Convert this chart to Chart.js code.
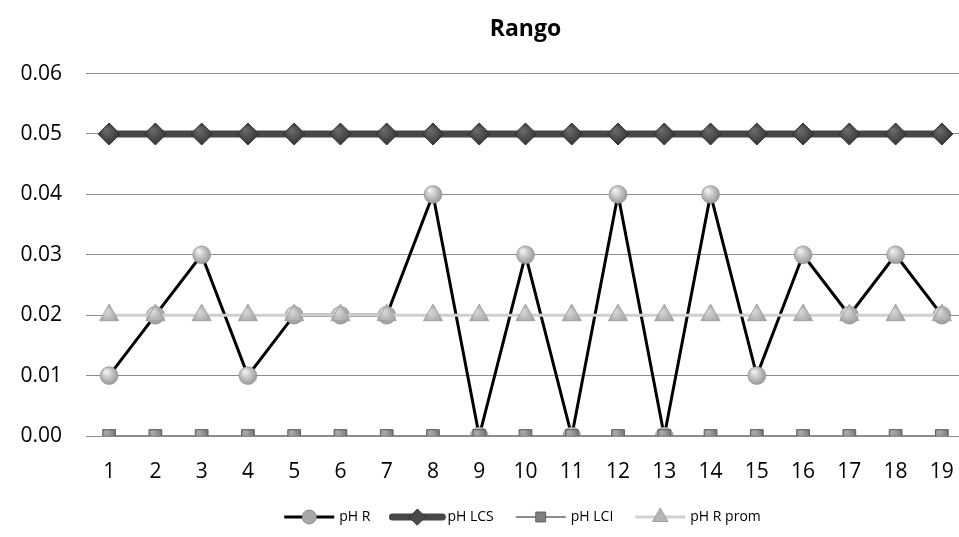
<!DOCTYPE html>
<html>
<head>
<meta charset="utf-8">
<script src="https://cdn.jsdelivr.net/npm/chart.js@4"></script>
<style>
  html, body { margin: 0; padding: 0; background: #fff; overflow: hidden; }
  #wrap { width: 959px; height: 537px; overflow: hidden; }
  #inner { width: 965px; height: 537px; }
</style>
</head>
<body>
<div id="wrap"><div id="inner"><canvas id="rangoChart"></canvas></div></div>
<script>
// datos
const muestras = ['1','2','3','4','5','6','7','8','9','10','11','12','13','14','15','16','17','18','19'];
const phR     = [0.01,0.02,0.03,0.01,0.02,0.02,0.02,0.04,0.00,0.03,0.00,0.04,0.00,0.04,0.01,0.03,0.02,0.03,0.02];
const phLCS   = [0.05,0.05,0.05,0.05,0.05,0.05,0.05,0.05,0.05,0.05,0.05,0.05,0.05,0.05,0.05,0.05,0.05,0.05,0.05];
const phLCI   = [0,0,0,0,0,0,0,0,0,0,0,0,0,0,0,0,0,0,0];
const phRprom = [0.02,0.02,0.02,0.02,0.02,0.02,0.02,0.02,0.02,0.02,0.02,0.02,0.02,0.02,0.02,0.02,0.02,0.02,0.02];
const yTicks  = [0, 0.01, 0.02, 0.03, 0.04, 0.05, 0.06];

const FONT = "'Open Sans', 'Liberation Sans', sans-serif";

// degradado radial para imitar los marcadores con relieve
function shade(light, dark) {
  return function(ctx) {
    const c = ctx.chart;
    if (ctx.type !== 'data' || !c.scales.x || !c.scales.y || !ctx.parsed) return dark;
    const x = c.scales.x.getPixelForValue(ctx.dataIndex);
    const y = c.scales.y.getPixelForValue(ctx.parsed.y);
    if (!isFinite(x) || !isFinite(y)) return dark;
    const g = c.ctx.createRadialGradient(x - 3, y - 4, 1, x, y, 11);
    g.addColorStop(0, light);
    g.addColorStop(1, dark);
    return g;
  };
}

const legendPlugin = {
  id: 'bottomLegend',
  afterDraw(chart) {
    const ctx = chart.ctx;
    const sets = chart.data.datasets;
    const lineLen = 50, gap = 5, between = 22;
    ctx.save();
    ctx.font = "14px " + FONT;
    let total = 0;
    sets.forEach((d, i) => {
      total += lineLen + gap + ctx.measureText(d.label).width;
      if (i < sets.length - 1) total += between;
    });
    const area = chart.chartArea;
    let x = (area.left + area.right) / 2 - total / 2 - 3;
    const y = 517;
    sets.forEach(d => {
      ctx.strokeStyle = d.borderColor;
      ctx.lineWidth = d.borderWidth;
      ctx.lineCap = d.borderWidth > 4 ? 'round' : 'butt';
      ctx.beginPath();
      ctx.moveTo(x, y);
      ctx.lineTo(x + lineLen, y);
      ctx.stroke();
      ctx.fillStyle = d.legendFill;
      ctx.strokeStyle = d.legendStroke;
      ctx.lineWidth = 1;
      Chart.helpers.drawPoint(ctx, {
        pointStyle: d.pointStyle,
        radius: d.legendRadius,
        rotation: 0,
        borderWidth: 1
      }, x + lineLen / 2, y);
      ctx.fillStyle = '#000';
      ctx.textBaseline = 'middle';
      ctx.textAlign = 'left';
      ctx.fillText(d.label, x + lineLen + gap, y);
      x += lineLen + gap + ctx.measureText(d.label).width + between;
    });
    ctx.restore();
  }
};

new Chart(document.getElementById('rangoChart'), {
  type: 'line',
  data: {
    labels: muestras,
    datasets: [
      {
        label: 'pH R',
        data: phR,
        borderColor: '#000000',
        borderWidth: 3,
        pointStyle: 'circle',
        pointRadius: 9,
        pointBackgroundColor: shade('#eeeeee', '#8a8a8a'),
        pointBorderColor: '#8a8a8a',
        pointBorderWidth: 0.5,
        legendRadius: 7, legendFill: '#a8a8a8', legendStroke: '#8a8a8a',
        order: 4
      },
      {
        label: 'pH LCS',
        data: phLCS,
        borderColor: '#474747',
        borderWidth: 7,
        pointStyle: 'rectRot',
        pointRadius: 11,
        pointBackgroundColor: shade('#6a6a6a', '#333333'),
        pointBorderColor: '#333333',
        pointBorderWidth: 1,
        legendRadius: 8, legendFill: '#4a4a4a', legendStroke: '#333333',
        order: 3
      },
      {
        label: 'pH LCI',
        data: phLCI,
        borderColor: '#8c8c8c',
        borderWidth: 2,
        pointStyle: 'rect',
        pointRadius: 9,
        pointBackgroundColor: shade('#a8a8a8', '#5e5e5e'),
        pointBorderColor: '#5e5e5e',
        pointBorderWidth: 1,
        legendRadius: 7, legendFill: '#808080', legendStroke: '#5e5e5e',
        order: 2
      },
      {
        label: 'pH R prom',
        data: phRprom,
        borderColor: '#cfcfcf',
        borderWidth: 3,
        pointStyle: 'triangle',
        pointRadius: 11,
        pointBackgroundColor: shade('#d6d6d6', '#9a9a9a'),
        pointBorderColor: '#a0a0a0',
        pointBorderWidth: 1,
        legendRadius: 9, legendFill: '#b4b4b4', legendStroke: '#a0a0a0',
        order: 1
      }
    ]
  },
  options: {
    responsive: true,
    maintainAspectRatio: false,
    animation: false,
    layout: { autoPadding: false, padding: { top: 0, left: 0, right: 0, bottom: 53 } },
    plugins: {
      legend: { display: false },
      tooltip: { enabled: false },
      title: {
        display: true,
        fullSize: false,
        text: 'Rango',
        color: '#000',
        font: { family: FONT, size: 23, weight: 'bold' },
        padding: { top: 16, bottom: 30 }
      }
    },
    scales: {
      x: {
        offset: true,
        grid: { display: false, drawTicks: false },
        border: { display: false },
        ticks: { color: '#000', padding: 23, font: { family: FONT, size: 21 } },
        afterFit: s => { s.height = 48; s.paddingLeft = 0; s.paddingRight = 0; }
      },
      y: {
        min: 0,
        max: 0.06,
        afterBuildTicks: s => { s.ticks = yTicks.map(v => ({ value: v })); },
        grid: { color: '#8c8c8c', lineWidth: 1, drawTicks: false },
        border: { display: false },
        ticks: {
          color: '#000',
          padding: 24,
          font: { family: FONT, size: 21 },
          callback: v => Number(v).toFixed(2)
        },
        afterFit: s => { s.width = 86; }
      }
    }
  },
  plugins: [legendPlugin]
});
</script>
</body>
</html>
